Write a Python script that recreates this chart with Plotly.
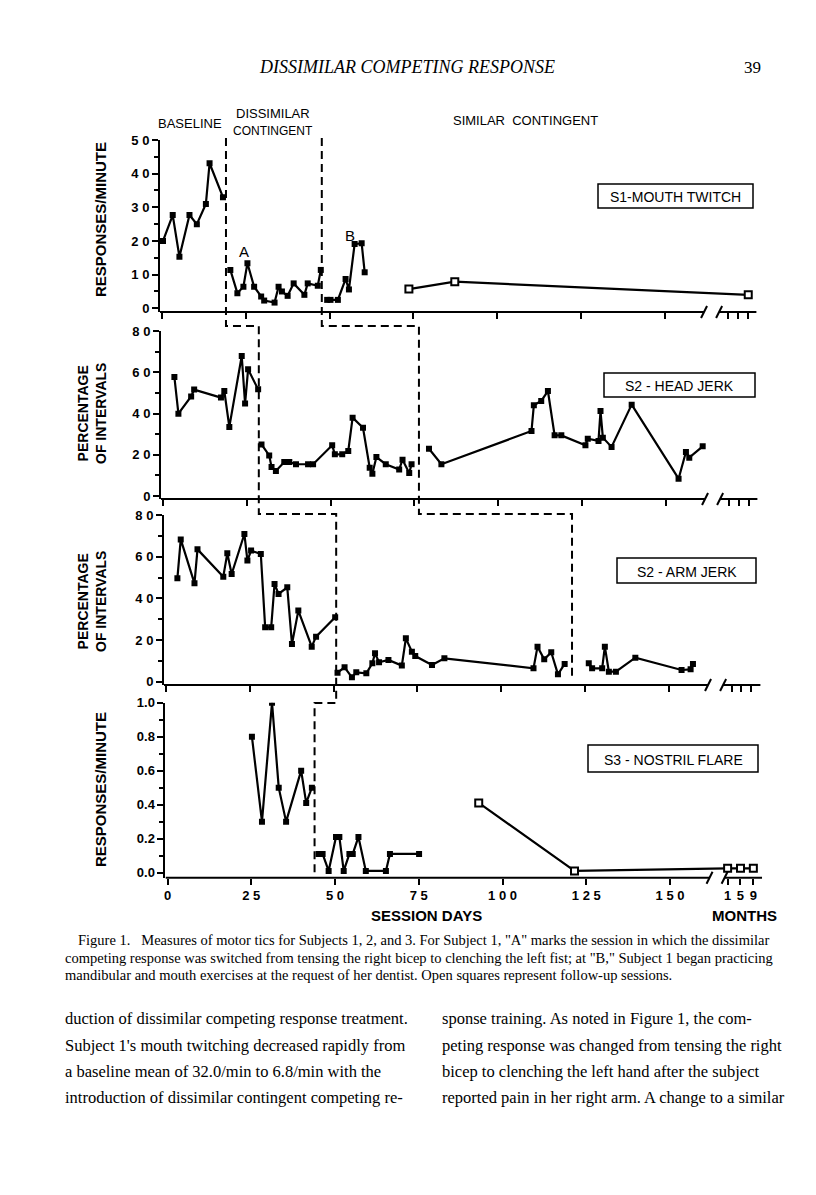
import plotly.graph_objects as go

# ---------------- DATA ----------------
# Subject 1 - mouth twitch (responses / minute)
s1_base_day = [0.3, 3.2, 5.2, 8.2, 10.4, 13.1, 14.2, 18.2]
s1_base_val = [20, 27.7, 15.3, 27.7, 25, 31, 43.1, 33]
s1_dis_day = [20.4, 22.5, 24.3, 25.5, 27.5, 29.6, 30.5, 33.6, 34.8, 35.8, 37.5, 39.3, 42.5, 43.5, 46.5, 47.4]
s1_dis_val = [11.4, 4.5, 6.4, 13.4, 6.4, 3.5, 2.3, 1.7, 6.4, 5.0, 3.7, 7.4, 4.0, 7.4, 6.7, 11.4]
s1_sim_day = [49.3, 50.3, 52.5, 54.8, 55.8, 57.5, 59.6, 60.5]
s1_sim_val = [2.5, 2.5, 2.5, 8.7, 5.6, 19.1, 19.3, 10.7]
s1_fu_day = [73.7, 87.4]
s1_fu_val = [5.7, 7.9]
s1_fu_month = [9]
s1_fu_month_val = [4.0]

# Subject 2 - head jerk (percentage of intervals)
s2h_base_day = [3.4, 4.6, 8.4, 9.3, 17.3, 18.3, 19.8, 23.5, 24.5, 25.4, 28.4]
s2h_base_val = [57.7, 39.9, 48.3, 51.6, 47.7, 50.9, 33.5, 67.9, 44.8, 61.4, 51.7]
s2h_trt_day = [29.4, 31.7, 32.4, 33.7, 36.2, 37.7, 39.7, 43.3, 44.8, 50.5, 51.3, 53.5, 55.3, 56.6,
               59.7, 61.7, 62.5, 63.7, 66.5, 70.5, 71.5, 73.5, 74.2]
s2h_trt_val = [25, 19.7, 14.1, 12.1, 16.5, 16.5, 15.4, 15.4, 15.4, 24.6, 20.2, 20.2, 21.8, 38,
               33.1, 13.7, 10.8, 18.9, 15.4, 12.8, 17.6, 11.2, 15.4]
s2h_sim_day = [79.4, 83.1, 110.0, 110.7, 112.9, 114.9, 116.9, 118.9, 126.1, 126.8, 130.0, 130.6,
               131.3, 133.9, 139.9, 153.9, 156.1, 157.1, 161.1]
s2h_sim_val = [22.9, 15.4, 31.5, 44, 46.1, 50.9, 29.4, 29.4, 24.6, 27.8, 26.7, 41.2,
               28.3, 23.8, 44.3, 8.4, 21.3, 18.6, 24.1]

# Subject 2 - arm jerk (percentage of intervals)
s2a_base_day = [3.4, 4.4, 8.5, 9.4, 17.1, 18.3, 19.6, 23.4, 24.3, 25.4, 28.3, 29.6, 31.4, 32.4,
                33.6, 36.2, 37.6, 39.5, 43.5, 44.8, 50.5]
s2a_base_val = [49.6, 68.3, 47.2, 63.5, 50.4, 61.6, 51.7, 70.9, 58.1, 62.9, 61.3, 26.1, 26.1, 46.9,
                42.1, 45.3, 18.1, 34.1, 16.8, 21.6, 30.9]
s2a_trt_day = [51.2, 53.3, 55.5, 56.8, 59.8, 61.6, 62.4, 63.6, 66.4, 70.4, 71.6, 73.4, 74.4, 79.4,
               83.1, 109.7, 110.9, 112.9, 115.0, 117.0, 119.0]
s2a_trt_val = [4.3, 6.9, 2.1, 4.5, 4.0, 8.8, 13.6, 9.3, 10.4, 7.7, 20.8, 14.4, 12.3, 8.0,
               11.2, 6.4, 16.8, 10.7, 14.1, 3.5, 8.5]
s2a_sim_day = [126.2, 127.2, 130.2, 131.0, 132.2, 134.3, 140.1, 153.9, 156.6, 157.3]
s2a_sim_val = [8.8, 6.4, 6.4, 16.8, 4.8, 4.8, 11.5, 5.6, 5.9, 8.5]

# Subject 3 - nostril flare (responses / minute)
s3_base_day = [25.2, 28.2, 31.2, 33.2, 35.4, 39.9, 41.4, 43.1]
s3_base_val = [0.8, 0.3, 1.0, 0.5, 0.3, 0.6, 0.41, 0.5]
s3_trt_day = [45.1, 46.3, 48.1, 50.3, 51.3, 52.6, 54.3, 55.3, 57.0, 59.2, 65.2, 66.4, 75.1]
s3_trt_val = [0.11, 0.11, 0.01, 0.21, 0.21, 0.01, 0.11, 0.11, 0.21, 0.01, 0.01, 0.11, 0.11]
s3_fu_day = [92.9, 121.5]
s3_fu_val = [0.41, 0.01]
s3_fu_month = [1, 5, 9]
s3_fu_month_val = [0.025, 0.025, 0.025]

# phase-change sessions (days) per panel
phase_days = [[19.1, 47.7], [28.6, 76.4], [50.8, 121.2], [43.9]]

day_ticks = [0, 25, 50, 75, 100, 125, 150]
day_tick_text = ["0", "2 5", "5 0", "7 5", "1 0 0", "1 2 5", "1 5 0"]
month_ticks = [1, 5, 9]
month_tick_text = ["1", "5", "9"]

panel_titles = ["S1-MOUTH TWITCH", "S2 - HEAD JERK", "S2 - ARM JERK", "S3 - NOSTRIL FLARE"]

# ---------------- LAYOUT GEOMETRY ----------------
PAGE_W, PAGE_H = 816, 1195
OFF = 8                      # default body margin of the html page
W, H = PAGE_W - OFF, PAGE_H - OFF
X_SCALE = 3.35               # px per session day
X_RANGE = [-0.6, 177.5]
BREAK = [161.8, 166.3]       # axis break (days -> months)

PANELS = [
    dict(origin=162, top=140, bottom=312, yrange=[-1.1, 50],
         yt=[0, 10, 20, 30, 40, 50], ytt=["0", "1 0", "2 0", "3 0", "4 0", "5 0"], ym=[5, 15, 25, 35, 45],
         month=(169.0, 0.75), box=(598, 184, 753, 208)),
    dict(origin=163, top=331, bottom=499, yrange=[-1.45, 80],
         yt=[0, 20, 40, 60, 80], ytt=["0", "2 0", "4 0", "6 0", "8 0"], ym=[10, 30, 50, 70],
         month=(169.0, 0.75), box=(604, 373, 755, 397)),
    dict(origin=166, top=515, bottom=685, yrange=[-1.6, 80],
         yt=[0, 20, 40, 60, 80], ytt=["0", "2 0", "4 0", "6 0", "8 0"], ym=[10, 30, 50, 70],
         month=(168.9, 0.70), box=(617, 558, 756, 583)),
    dict(origin=167.5, top=702.7, bottom=877.7, yrange=[-0.03, 1.0],
         yt=[0, 0.2, 0.4, 0.6, 0.8, 1.0], ytt=["0.0", "0.2", "0.4", "0.6", "0.8", "1.0"],
         ym=[0.1, 0.3, 0.5, 0.7, 0.9],
         month=(167.2, 0.96), box=(588, 745, 758, 772)),
]


def xp(px):
    return (px - OFF) / W


def yp(py):
    return 1 - (py - OFF) / H


def day_px(k, d):
    return PANELS[k]["origin"] + d * X_SCALE


def month_day(k, m):
    base, step = PANELS[k]["month"]
    return base + (m - 1) * step


def sfx(k):
    return "" if k == 0 else str(k + 1)


SANS = "Liberation Sans"
SERIF = "Liberation Serif"

fig = go.Figure()


def add_series(k, x, y, open_=False):
    fig.add_trace(go.Scatter(
        x=x, y=y, mode="lines+markers",
        xaxis="x" + sfx(k), yaxis="y" + sfx(k),
        line=dict(color="black", width=2.2),
        marker=dict(symbol="square", size=7 if open_ else 6,
                    color="white" if open_ else "black",
                    line=dict(color="black", width=2 if open_ else 0)),
        showlegend=False, hoverinfo="x+y"))


# Subject 1
add_series(0, s1_base_day, s1_base_val)
add_series(0, s1_dis_day, s1_dis_val)
add_series(0, s1_sim_day, s1_sim_val)
add_series(0, s1_fu_day + [month_day(0, m) for m in s1_fu_month], s1_fu_val + s1_fu_month_val, open_=True)
# Subject 2 head
add_series(1, s2h_base_day, s2h_base_val)
add_series(1, s2h_trt_day, s2h_trt_val)
add_series(1, s2h_sim_day, s2h_sim_val)
# Subject 2 arm
add_series(2, s2a_base_day, s2a_base_val)
add_series(2, s2a_trt_day, s2a_trt_val)
add_series(2, s2a_sim_day, s2a_sim_val)
# Subject 3
add_series(3, s3_base_day, s3_base_val)
add_series(3, s3_trt_day, s3_trt_val)
add_series(3, s3_fu_day + [month_day(3, m) for m in s3_fu_month], s3_fu_val + s3_fu_month_val, open_=True)

layout = dict(
    width=W, height=H, margin=dict(l=0, r=0, t=0, b=0),
    paper_bgcolor="white", plot_bgcolor="rgba(0,0,0,0)", showlegend=False,
    font=dict(family=SANS, color="black"),
)

shapes = []
annotations = []


def note(text, px, py, size, family=SANS, anchor="center", **kw):
    font = dict(family=family, size=size, color="black")
    font.update(kw.pop("font", {}))
    d = dict(text=text, xref="paper", yref="paper", x=xp(px), y=yp(py),
             xanchor=anchor, yanchor="middle", showarrow=False, font=font)
    d.update(kw)
    annotations.append(d)


for k, P in enumerate(PANELS):
    s = sfx(k)
    x0 = P["origin"] + X_RANGE[0] * X_SCALE
    x1 = P["origin"] + X_RANGE[1] * X_SCALE
    mvals = [month_day(k, m) for m in month_ticks]
    layout["xaxis" + s] = dict(
        domain=[xp(x0), xp(x1)], range=X_RANGE, anchor="y" + s,
        showline=False, showgrid=False, zeroline=False,
        ticks="outside", ticklen=6, tickwidth=2, tickcolor="black",
        tickmode="array", tickvals=day_ticks + mvals,
        ticktext=day_tick_text + month_tick_text,
        showticklabels=(k == 3),
        tickfont=dict(family=SANS, size=13, weight="bold"),
        automargin=False, fixedrange=True)
    layout["yaxis" + s] = dict(
        domain=[yp(P["bottom"]), yp(P["top"])], range=P["yrange"], anchor="x" + s,
        showline=True, linewidth=2, linecolor="black", showgrid=False, zeroline=False,
        ticks="outside", ticklen=6, tickwidth=2, tickcolor="black",
        tickmode="array", tickvals=P["yt"], ticktext=P["ytt"],
        minor=dict(tickmode="array", tickvals=P["ym"], ticks="outside", ticklen=4,
                   tickwidth=1.5, tickcolor="black"),
        tickfont=dict(family=SANS, size=13, weight="bold"),
        automargin=False, fixedrange=True)

    # x axis line with break
    for a, b in [(X_RANGE[0], BREAK[0]), (BREAK[1], X_RANGE[1])]:
        shapes.append(dict(type="line", xref="x" + s, yref="y" + s + " domain",
                           x0=a, x1=b, y0=0, y1=0, line=dict(color="black", width=2)))
    for bk in BREAK:
        shapes.append(dict(type="line", xref="x" + s, yref="paper",
                           x0=bk - 0.9, x1=bk + 0.9,
                           y0=yp(P["bottom"] + 6), y1=yp(P["bottom"] - 6),
                           line=dict(color="black", width=2)))

    # label box
    bx0, by0, bx1, by1 = P["box"]
    shapes.append(dict(type="rect", xref="paper", yref="paper",
                       x0=xp(bx0), x1=xp(bx1), y0=yp(by1), y1=yp(by0),
                       line=dict(color="black", width=1.5), fillcolor="white"))
    note(panel_titles[k], (bx0 + bx1) / 2, (by0 + by1) / 2 + 1, 14)

# phase-change dashed staircases (paper coordinates)
DASH = dict(color="black", width=2, dash="8px,5px")


def path(points):
    d = ""
    for i, (px, py) in enumerate(points):
        d += ("M" if i == 0 else "L") + f"{xp(px):.5f},{yp(py):.5f} "
    return d


stair1 = [
    (day_px(0, phase_days[0][0]), 138), (day_px(0, phase_days[0][0]), 326),
    (day_px(1, phase_days[1][0]), 326), (day_px(1, phase_days[1][0]), 514),
    (day_px(2, phase_days[2][0]), 514), (day_px(2, phase_days[2][0]), 703),
    (day_px(3, phase_days[3][0]), 703), (day_px(3, phase_days[3][0]), 873),
]
stair2 = [
    (day_px(0, phase_days[0][1]), 138), (day_px(0, phase_days[0][1]), 326),
    (day_px(1, phase_days[1][1]), 326), (day_px(1, phase_days[1][1]), 514),
    (day_px(2, phase_days[2][1]), 514), (day_px(2, phase_days[2][1]), 680),
]
for st in (stair1, stair2):
    shapes.append(dict(type="path", xref="paper", yref="paper", path=path(st), line=DASH))

# phase labels
note("BASELINE", 190, 123, 13)
note("DISSIMILAR", 273, 113, 13)
note("CONTINGENT", 273, 131, 12)
note("SIMILAR  CONTINGENT", 525, 120, 13)

annotations += [
    dict(text="A", xref="x", yref="y", x=24.5, y=16.8, showarrow=False,
         xanchor="center", yanchor="middle", font=dict(family=SANS, size=15)),
    dict(text="B", xref="x", yref="y", x=56.0, y=21.5, showarrow=False,
         xanchor="center", yanchor="middle", font=dict(family=SANS, size=15)),
]

# axis titles
bold = dict(weight="bold")
note("RESPONSES/MINUTE", 100, 220, 15, textangle=-90, font=bold)
note("PERCENTAGE<br>OF INTERVALS", 92, 414, 14, textangle=-90, font=bold)
note("PERCENTAGE<br>OF INTERVALS", 92, 602, 14, textangle=-90, font=bold)
note("RESPONSES/MINUTE", 100, 790, 15, textangle=-90, font=bold)
note("SESSION DAYS", 426, 915, 15, font=bold)
note("MONTHS", 744, 915, 15, font=bold)

# page header
note("<i>DISSIMILAR COMPETING RESPONSE</i>", 407, 67, 18, family=SERIF)
note("39", 752, 67, 17, family=SERIF)

# caption
caption = [
    (76, 940, "Figure 1.   Measures of motor tics for Subjects 1, 2, and 3. For Subject 1, \"A\" marks the session in which the dissimilar"),
    (63, 958, "competing response was switched from tensing the right bicep to clenching the left fist; at \"B,\" Subject 1 began practicing"),
    (63, 975, "mandibular and mouth exercises at the request of her dentist. Open squares represent follow-up sessions."),
]
for cx, cy, t in caption:
    note(t, cx, cy, 14.5, family=SERIF, anchor="left")

# body text
left_col = [
    "duction of dissimilar competing response treatment.",
    "Subject 1's mouth twitching decreased rapidly from",
    "a baseline mean of 32.0/min to 6.8/min with the",
    "introduction of dissimilar contingent competing re-",
]
right_col = [
    "sponse training. As noted in Figure 1, the com-",
    "peting response was changed from tensing the right",
    "bicep to clenching the left hand after the subject",
    "reported pain in her right arm. A change to a similar",
]
line_y = [1019, 1045, 1071, 1097]
for col_x, lines in ((63, left_col), (440, right_col)):
    for ly, t in zip(line_y, lines):
        note(t, col_x, ly, 16.5, family=SERIF, anchor="left")

layout["shapes"] = shapes
layout["annotations"] = annotations
fig.update_layout(**layout)
fig.write_html("out.html")
